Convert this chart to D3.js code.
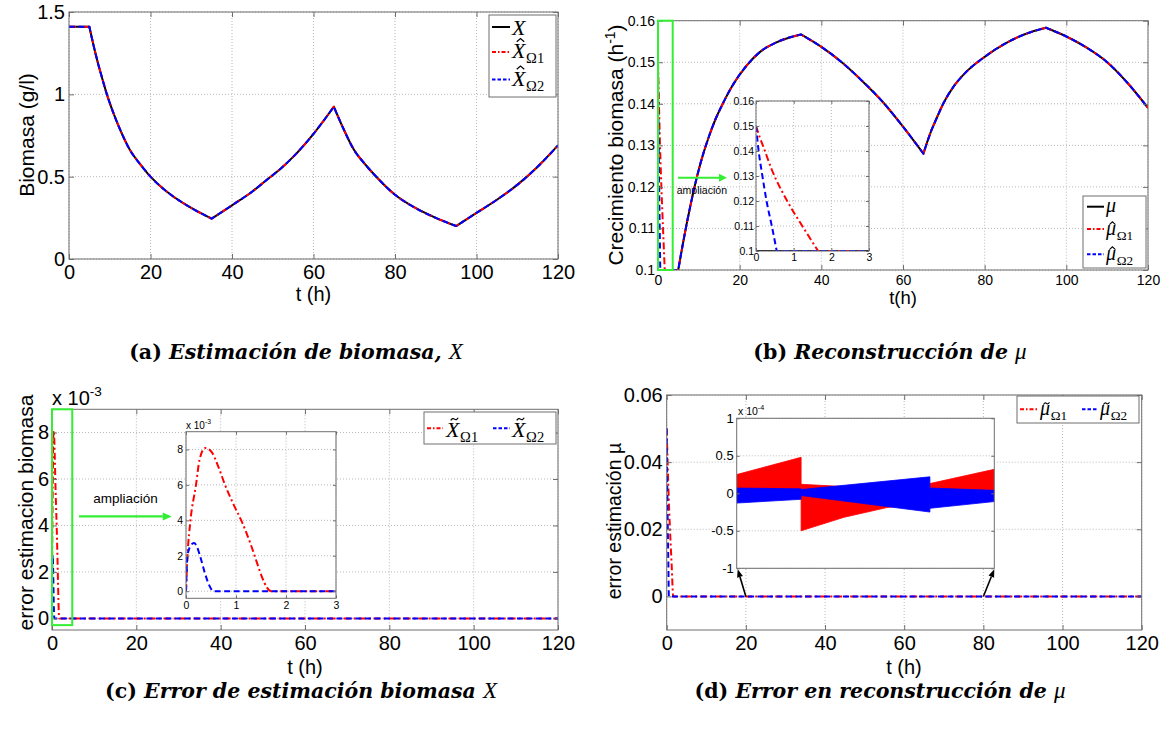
<!DOCTYPE html>
<html>
<head>
<meta charset="utf-8">
<script src="https://cdn.jsdelivr.net/npm/d3@7"></script>
<style>
  body { margin: 0; background: #fff; }
</style>
</head>
<body>
<svg id="fig" width="1175" height="742"></svg>
<script>
// ---------------- data ----------------
// (a) biomass concentration X (g/l); both estimators lie on top of it
const tBio = [0, 5, 6, 7, 8, 9.3, 11, 13, 15, 17.5, 20, 22.5, 25, 30, 35, 40, 45, 48.5, 52, 55, 60, 65, 67, 70, 72.5, 75, 80, 85, 90, 95, 100, 105, 110, 115, 120];
const bioX = [1.41, 1.41, 1.3, 1.2, 1.11, 1.0, 0.88, 0.76, 0.66, 0.575, 0.50, 0.44, 0.39, 0.31, 0.245, 0.326, 0.41, 0.48, 0.55, 0.62, 0.76, 0.925, 0.81, 0.66, 0.58, 0.51, 0.39, 0.31, 0.25, 0.20, 0.28, 0.36, 0.45, 0.56, 0.69];
const bioHat1 = bioX;
const bioHat2 = bioX;

// (b) specific growth rate mu (1/h)
const tMu = [0, 4.95, 6, 7, 8, 9, 10, 11, 12.5, 14, 15.5, 18, 21.7, 25, 29, 35, 40, 45, 50, 55, 60, 65, 66, 67, 68, 70, 72.5, 75, 80, 85, 90, 95, 100, 105, 110, 115, 120];
const muTrue = [0.1, 0.1, 0.1058, 0.111, 0.1158, 0.1202, 0.1242, 0.1277, 0.1322, 0.1361, 0.1393, 0.1440, 0.1492, 0.1525, 0.1548, 0.1567, 0.1537, 0.150, 0.1455, 0.1405, 0.1345, 0.128, 0.131, 0.1337, 0.136, 0.1403, 0.1443, 0.1472, 0.1513, 0.1545, 0.1568, 0.1583, 0.1562, 0.1535, 0.150, 0.145, 0.139];
// start-up transient of both observers (they then follow mu)
const tMuHat1 = [0, 0.1, 0.2, 0.42, 0.81, 1.25, 1.65];
const muHat1 = [0.15, 0.1455, 0.1415, 0.1325, 0.1205, 0.1095, 0.10];
const tMuHat2 = [0, 0.07, 0.17, 0.28, 0.42, 0.55];
const muHat2 = [0.15, 0.14, 0.13, 0.12, 0.11, 0.10];

// (c) biomass estimation error (x 1e-3)
const tErrX1 = [0, 0.03, 0.09, 0.2, 0.27, 0.38, 0.5, 0.65, 0.78, 0.95, 1.12, 1.3, 1.42, 1.52, 1.62, 1.7, 120];
const errX1 = [0, 2, 4, 6, 7.4, 8.08, 7.9, 7.0, 6.0, 4.9, 3.9, 2.6, 1.6, 0.8, 0.2, 0, 0];
const tErrX2 = [0, 0.03, 0.08, 0.16, 0.22, 0.28, 0.38, 0.47, 0.55, 120];
const errX2 = [0, 2, 2.5, 2.72, 2.5, 2.0, 1.0, 0.3, 0, 0];

// (d) growth-rate reconstruction error
const tErrMu1 = [0, 0.1, 0.2, 0.42, 0.81, 1.25, 1.65, 120];
const errMu1 = [0.05, 0.0455, 0.0415, 0.0325, 0.0205, 0.0095, 0, 0];
const tErrMu2 = [0, 0.07, 0.17, 0.28, 0.42, 0.55, 120];
const errMu2 = [0.05, 0.04, 0.03, 0.02, 0.01, 0, 0];
// ripple envelopes (x 1e-4) of the error between t = 20 h and 80 h, one block per feeding phase
const rip1T  = [[20, 35], [35, 45, 55, 65], [65, 80]];
const rip1Hi = [[0.25, 0.48], [0.12, 0.09, 0.06, 0.04], [0.13, 0.32]];
const rip1Lo = [[-0.08, -0.06], [-0.50, -0.32, -0.19, -0.12], [-0.03, -0.02]];
const rip2T  = [[20, 35], [35, 65], [65, 80]];
const rip2Hi = [[0.07, 0.06], [0.05, 0.22], [0.07, 0.04]];
const rip2Lo = [[-0.13, -0.08], [-0.03, -0.25], [-0.20, -0.11]];

// tick values
const tTicks = [0, 20, 40, 60, 80, 100, 120];
const zoomTicks = [0, 1, 2, 3];
const bioTicks = [0, 0.5, 1, 1.5];
const muTicks = [0.1, 0.11, 0.12, 0.13, 0.14, 0.15, 0.16];
const errXTicks = [0, 2, 4, 6, 8];
const errMuTicks = [0, 0.02, 0.04, 0.06];
const rippleTicks = [-1, -0.5, 0, 0.5, 1];

// ---------------- drawing ----------------
const fig = d3.select("#fig");
const AX = "#6f6f6f", GRID = "#b8b8b8", RED = "#ff0000", BLUE = "#0000ff", GREEN = "#33ee33";
const SANS = '"Liberation Sans", Arial, sans-serif';
const SERIF = '"Liberation Serif", "Times New Roman", serif';
const CAP = '"DejaVu Serif", serif';
const sBlack = { c: "#000", w: 2, key: null };
const sRed = { c: RED, w: 2, dash: "7,3,2,3", key: "4,2,1.5,2" };
const sBlue = { c: BLUE, w: 2, dash: "6,3.5", key: "3.5,2" };

let nClip = 0;
function makeAxes(o) {
  const g = fig.append("g");
  const x = d3.scaleLinear().domain(o.xd).range([o.l, o.r]);
  const y = d3.scaleLinear().domain(o.yd).range([o.b, o.t]);
  g.append("rect").attr("x", o.l).attr("y", o.t).attr("width", o.r - o.l).attr("height", o.b - o.t).attr("fill", "#fff");
  const grid = g.append("g").attr("stroke", GRID).attr("stroke-width", 1).attr("stroke-dasharray", "1,2");
  if (o.gridX !== false) {
    grid.selectAll("line.gx").data(o.xt).join("line").attr("class", "gx")
      .attr("x1", d => x(d)).attr("x2", d => x(d)).attr("y1", o.t).attr("y2", o.b);
  }
  grid.selectAll("line.gy").data(o.yt).join("line").attr("class", "gy")
    .attr("x1", o.l).attr("x2", o.r).attr("y1", d => y(d)).attr("y2", d => y(d));
  const id = "clip" + (nClip++);
  g.append("clipPath").attr("id", id).append("rect")
    .attr("x", o.l).attr("y", o.t).attr("width", o.r - o.l).attr("height", o.b - o.t);
  const plot = g.append("g").attr("clip-path", `url(#${id})`);
  const tl = o.tick || 5, pad = o.pad || 5;
  const fmt = d => String(d);
  const styl = (sel) => {
    sel.select(".domain").remove();
    sel.selectAll(".tick line").attr("stroke", AX);
    sel.selectAll("text").attr("font-family", SANS).attr("font-size", o.fs).attr("fill", "#000");
  };
  const xt = o.xTickMarks === false ? [] : o.xt;
  g.append("g").attr("transform", `translate(0,${o.b})`)
    .call(d3.axisBottom(x).tickValues(xt).tickSizeInner(-tl).tickSizeOuter(0).tickPadding(o.xpad || pad)
      .tickFormat(o.noXLab ? "" : fmt)).call(styl);
  g.append("g").attr("transform", `translate(0,${o.t})`)
    .call(d3.axisTop(x).tickValues(xt).tickSizeInner(-tl).tickSizeOuter(0).tickFormat("")).call(styl);
  g.append("g").attr("transform", `translate(${o.l},0)`)
    .call(d3.axisLeft(y).tickValues(o.yt).tickSizeInner(-tl).tickSizeOuter(0).tickPadding(o.ypad || pad)
      .tickFormat(fmt)).call(styl);
  g.append("g").attr("transform", `translate(${o.r},0)`)
    .call(d3.axisRight(y).tickValues(o.yt).tickSizeInner(-tl).tickSizeOuter(0).tickFormat("")).call(styl);
  g.append("rect").attr("x", o.l).attr("y", o.t).attr("width", o.r - o.l).attr("height", o.b - o.t)
    .attr("fill", "none").attr("stroke", AX).attr("stroke-width", 1);
  return { g, x, y, plot, o };
}

// split a series into monotone runs so that switching points stay sharp
function monotoneRuns(pts) {
  const runs = [];
  let cur = [pts[0]], dir = null;
  for (let i = 1; i < pts.length; i++) {
    const s = Math.sign(pts[i][1] - pts[i - 1][1]);
    if (dir !== null && s !== dir) { runs.push(cur); cur = [pts[i - 1]]; }
    cur.push(pts[i]);
    dir = s;
  }
  runs.push(cur);
  return runs;
}

function series(ax, ts, vs, st, sharp) {
  const pts = ts.map((t, i) => [t, vs[i]]);
  const line = d3.line().x(d => ax.x(d[0])).y(d => ax.y(d[1])).curve(d3.curveMonotoneX);
  const d = sharp
    ? monotoneRuns(pts).map((p, i) => i ? line(p).replace(/^M/, "L") : line(p)).join("")
    : line(pts);
  ax.plot.append("path").attr("d", d).attr("fill", "none")
    .attr("stroke", st.c).attr("stroke-width", st.w).attr("stroke-dasharray", st.dash || null)
    .attr("stroke-linejoin", "round");
}

// estimator transient followed by the true trajectory
function joinAfter(tA, vA, tB, vB) {
  const last = tA[tA.length - 1];
  const t = tA.slice(), v = vA.slice();
  tB.forEach((tt, i) => { if (tt > last) { t.push(tt); v.push(vB[i]); } });
  return [t, v];
}

function bands(ax, T, Hi, Lo, color) {
  const area = d3.area().x(d => ax.x(d[0])).y0(d => ax.y(d[2])).y1(d => ax.y(d[1]));
  T.forEach((ts, k) => {
    const pts = ts.map((t, i) => [t, Hi[k][i], Lo[k][i]]);
    ax.plot.append("path").attr("d", area(pts)).attr("fill", color).attr("stroke", color).attr("stroke-width", 0.8);
  });
}

function label(x, y, txt, fs, opts = {}) {
  const t = fig.append("text").attr("x", x).attr("y", y).attr("font-family", opts.family || SANS)
    .attr("font-size", fs).attr("text-anchor", opts.anchor || "middle").attr("fill", "#000");
  if (txt) t.text(txt);
  if (opts.rot) t.attr("transform", `rotate(-90,${x},${y})`);
  return t;
}

function sciLabel(x, y, exp, fs) {
  const t = label(x, y, "", fs, { anchor: "start" });
  t.append("tspan").text("x 10");
  t.append("tspan").attr("font-size", fs * 0.68).attr("dy", -fs * 0.45).text(exp);
}

function arrow(x1, y1, x2, y2, color, w, hl, hw) {
  const a = Math.atan2(y2 - y1, x2 - x1);
  const bx = x2 - hl * Math.cos(a), by = y2 - hl * Math.sin(a);
  fig.append("line").attr("x1", x1).attr("y1", y1).attr("x2", bx).attr("y2", by)
    .attr("stroke", color).attr("stroke-width", w);
  const px = Math.sin(a) * hw / 2, py = Math.cos(a) * hw / 2;
  fig.append("polygon").attr("points", `${x2},${y2} ${bx + px},${by - py} ${bx - px},${by + py}`).attr("fill", color);
}

function zoomBox(ax, t0, t1, v0, v1) {
  fig.append("rect").attr("x", ax.x(t0)).attr("y", ax.y(v1))
    .attr("width", ax.x(t1) - ax.x(t0)).attr("height", ax.y(v0) - ax.y(v1))
    .attr("fill", "none").attr("stroke", GREEN).attr("stroke-width", 2);
}

// italic math symbol with optional accent and subscript
function mathSym(x, y, base, accent, sub, fs) {
  const b = fig.append("text").attr("x", x).attr("y", y).attr("font-family", SERIF)
    .attr("font-style", "italic").attr("font-size", fs).text(base);
  const bw = b.node().getComputedTextLength();
  if (sub) {
    fig.append("text").attr("x", x + bw + fs * 0.03).attr("y", y + fs * 0.24).attr("font-family", SERIF)
      .attr("font-size", fs * 0.66).text(sub);
  }
  if (accent) {
    const upper = base === "X";
    const cx = x + bw * 0.5 + fs * (upper ? 0.08 : 0.07);
    const yb = y - fs * (upper ? 0.74 : 0.52);
    const w = fs * (upper ? 0.34 : 0.3);
    let d;
    if (accent === "hat") {
      d = `M${cx - w / 2},${yb} L${cx},${yb - fs * 0.14} L${cx + w / 2},${yb}`;
    } else {
      const h = fs * 0.06, x0 = cx - w / 2;
      d = `M${x0},${yb} Q${x0 + w / 4},${yb - 2.2 * h} ${x0 + w / 2},${yb - h} T${x0 + w},${yb - 2 * h}`;
    }
    fig.append("path").attr("d", d).attr("fill", "none").attr("stroke", "#000").attr("stroke-width", fs * 0.055);
  }
}

function legendBox(x, y, w, h) {
  fig.append("rect").attr("x", x).attr("y", y).attr("width", w).attr("height", h)
    .attr("fill", "#fff").attr("stroke", AX).attr("stroke-width", 1);
}
function legendLine(x1, x2, y, st) {
  fig.append("line").attr("x1", x1).attr("x2", x2).attr("y1", y).attr("y2", y)
    .attr("stroke", st.c).attr("stroke-width", st.w).attr("stroke-dasharray", st.key);
}

function caption(cx, y, tag, words, sym) {
  const t = fig.append("text").attr("x", cx).attr("y", y).attr("text-anchor", "middle")
    .attr("font-family", CAP).attr("font-size", 20.5).attr("fill", "#000");
  t.append("tspan").attr("font-weight", "bold").text(tag + " ");
  t.append("tspan").attr("font-weight", "bold").attr("font-style", "italic").text(words);
  t.append("tspan").attr("font-style", "italic").attr("font-family", SERIF).attr("font-size", 23).text(sym);
}

// ===== (a) biomass =====
const A = makeAxes({ l: 69, r: 558, t: 12, b: 259, xd: [0, 120], yd: [0, 1.5], xt: tTicks, yt: bioTicks, fs: 20, xpad: 6, ypad: 4 });
series(A, tBio, bioX, sBlack, true);
series(A, tBio, bioHat1, sRed, true);
series(A, tBio, bioHat2, sBlue, true);
label(34, 135, "Biomasa (g/l)", 21, { rot: true });
label(313.5, 301, "t (h)", 20);
legendBox(489, 15, 67, 82);
legendLine(492, 510, 27, sBlack);
legendLine(492, 510, 52, sRed);
legendLine(492, 510, 79.5, sBlue);
mathSym(512, 34.5, "X", null, null, 22);
mathSym(512, 58, "X", "hat", "Ω1", 22);
mathSym(512, 85.5, "X", "hat", "Ω2", 22);

// ===== (b) growth rate =====
const B = makeAxes({ l: 658, r: 1148, t: 20.7, b: 270, xd: [0, 120], yd: [0.1, 0.16], xt: tTicks, yt: muTicks, fs: 14, xpad: 5, ypad: 3 });
const [tB1, vB1] = joinAfter(tMuHat1, muHat1, tMu, muTrue);
const [tB2, vB2] = joinAfter(tMuHat2, muHat2, tMu, muTrue);
series(B, tMu, muTrue, sBlack, true);
series(B, tB1, vB1, sRed, true);
series(B, tB2, vB2, sBlue, true);
zoomBox(B, 0, 3.6, 0.1, 0.16);
arrow(B.x(4.9), B.y(0.1222), B.x(16.9), B.y(0.1222), GREEN, 2.2, 8, 8);
label(B.x(4.6), B.y(0.1182), "ampliación", 10.5, { anchor: "start" });
label(623, 145, "", 21, { rot: true }).call(t => {
  t.append("tspan").text("Crecimiento biomasa (h");
  t.append("tspan").attr("font-size", 14).attr("dy", -8).text("-1");
  t.append("tspan").attr("dy", 8).text(")");
});
label(903, 304, "t(h)", 18.5);
// inset: first three hours
const Bz = makeAxes({ l: 756, r: 869, t: 101, b: 251, xd: [0, 3], yd: [0.1, 0.16], xt: zoomTicks, yt: muTicks, fs: 10.5, tick: 3, xpad: 3, ypad: 2 });
series(Bz, tMu, muTrue, sBlack, true);
series(Bz, tB1, vB1, sRed, true);
series(Bz, tB2, vB2, sBlue, true);
legendBox(1083, 196, 63, 72);
legendLine(1087, 1104, 206.7, sBlack);
legendLine(1087, 1104, 229, sRed);
legendLine(1087, 1104, 254.3, sBlue);
mathSym(1106, 212, "μ", null, null, 20);
mathSym(1106, 235, "μ", "hat", "Ω1", 20);
mathSym(1106, 260, "μ", "hat", "Ω2", 20);

// ===== (c) biomass estimation error =====
const C = makeAxes({ l: 52, r: 558, t: 409.3, b: 630, xd: [0, 120], yd: [-0.5, 9], xt: tTicks, yt: errXTicks, fs: 20, xpad: 6, ypad: 3 });
series(C, tErrX1, errX1, sRed, false);
series(C, tErrX2, errX2, sBlue, false);
zoomBox(C, 0, 4.8, -0.29, 9);
arrow(C.x(6.4), C.y(4.39), C.x(28.4), C.y(4.39), GREEN, 2.2, 9, 8);
label(C.x(9.8), C.y(4.98), "ampliación", 13.5, { anchor: "start" });
sciLabel(52, 405, "-3", 20);
label(33, 512.5, "error estimacion biomasa", 21, { rot: true });
label(305, 674, "t (h)", 20);
const Cz = makeAxes({ l: 186, r: 336, t: 431.7, b: 598.3, xd: [0, 3], yd: [-0.4, 9], xt: zoomTicks, yt: errXTicks, fs: 10.5, tick: 3, xpad: 3, ypad: 3 });
series(Cz, tErrX1, errX1, sRed, false);
series(Cz, tErrX2, errX2, sBlue, false);
sciLabel(186, 428.5, "-3", 10);
legendBox(424, 412, 132, 32);
legendLine(427, 443, 428.3, sRed);
legendLine(493, 510, 428.3, sBlue);
mathSym(446, 436.7, "X", "tilde", "Ω1", 22);
mathSym(512, 436.7, "X", "tilde", "Ω2", 22);

// ===== (d) growth-rate reconstruction error =====
const D = makeAxes({ l: 666.7, r: 1141.7, t: 395, b: 630, xd: [0, 120], yd: [-0.01, 0.06], xt: tTicks, yt: errMuTicks, fs: 20, xpad: 6, ypad: 4 });
series(D, tErrMu1, errMu1, sRed, false);
series(D, tErrMu2, errMu2, sBlue, false);
label(621, 521, "error estimación µ", 19.5, { rot: true });
label(904, 674, "t (h)", 20);
const Dz = makeAxes({ l: 736.7, r: 994.3, t: 418.3, b: 568.3, xd: [20, 80], yd: [-1, 1], xt: [20, 80], yt: rippleTicks, fs: 13, tick: 3, ypad: 3, gridX: false, xTickMarks: false });
bands(Dz, rip1T, rip1Hi, rip1Lo, RED);
bands(Dz, rip2T, rip2Hi, rip2Lo, BLUE);
sciLabel(738, 415, "-4", 10.5);
arrow(D.x(20), D.y(0), Dz.x(20) + 1, Dz.y(-1) + 1, "#000", 1.6, 8, 6);
arrow(D.x(80), D.y(0), Dz.x(80), Dz.y(-1) + 1, "#000", 1.6, 8, 6);
legendBox(1017, 396, 122, 27);
legendLine(1020, 1037, 409.3, sRed);
legendLine(1082, 1098, 409.3, sBlue);
mathSym(1040, 415, "μ", "tilde", "Ω1", 20);
mathSym(1100, 415, "μ", "tilde", "Ω2", 20);

// ===== captions =====
caption(296, 359, "(a)", "Estimación de biomasa, ", "X");
caption(890, 359, "(b)", "Reconstrucción de ", "μ");
caption(301, 698, "(c)", "Error de estimación biomasa ", "X");
caption(880, 698, "(d)", "Error en reconstrucción de ", "μ");
</script>
</body>
</html>
